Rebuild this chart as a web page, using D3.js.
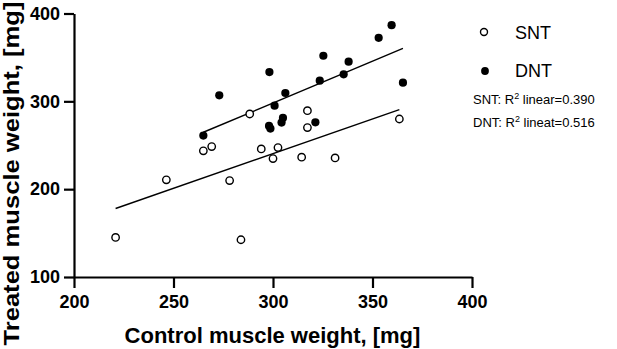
<!DOCTYPE html>
<html>
<head>
<meta charset="utf-8">
<script src="https://cdn.jsdelivr.net/npm/d3@7"></script>
<style>
  html, body { margin: 0; padding: 0; background: #fff; }
  svg { display: block; font-family: "Liberation Sans", Arial, sans-serif; }
</style>
</head>
<body>
<svg id="chart" width="617" height="349"></svg>
<script>
// ---- data ----
const sntX = [220.9, 246.4, 265.0, 269.2, 278.2, 283.9, 288.3, 294.1, 300.0, 302.5, 314.4, 317.3, 317.3, 331.2, 363.5];
const sntY = [145.1, 210.6, 243.6, 248.5, 209.8, 142.4, 285.6, 245.8, 234.8, 247.3, 236.4, 289.4, 270.1, 235.6, 279.9];
const dntX = [265.0, 273.0, 298.2, 298.0, 298.7, 300.8, 304.3, 305.0, 306.2, 321.3, 323.5, 325.3, 335.5, 338.0, 353.1, 359.6, 365.3];
const dntY = [261.0, 306.8, 333.3, 272.0, 269.0, 295.1, 275.8, 281.1, 309.5, 276.1, 323.5, 351.9, 330.7, 345.1, 372.3, 386.7, 321.2];
// linear fits (slope, intercept) as drawn in the reference
const sntFit = [0.789, 3.7];
const dntFit = [0.951, 12.8];
const xTicks = [200, 250, 300, 350, 400];
const yTicks = [100, 200, 300, 400];
const seriesNames = ["SNT", "DNT"];
const r2Labels = [["SNT: R", "2", " linear=0.390"], ["DNT: R", "2", " lineat=0.516"]];
const xTitle = "Control muscle weight, [mg]";
const yTitle = "Treated muscle weight, [mg]";

const svg = d3.select("#chart");
const x = d3.scaleLinear().domain([200, 400]).range([74, 472]);
const y = d3.scaleLinear().domain([100, 400]).range([277, 13.5]);

// axes
const xAxis = svg.append("g").attr("transform", `translate(0,${y(100)})`)
  .call(d3.axisBottom(x).tickValues(xTicks).tickSize(11).tickPadding(5).tickSizeOuter(0));
const yAxis = svg.append("g").attr("transform", `translate(${x(200)},0)`)
  .call(d3.axisLeft(y).tickValues(yTicks).tickSize(10).tickPadding(4).tickSizeOuter(0));
[xAxis, yAxis].forEach(g => {
  g.select(".domain").attr("stroke", "#000").attr("stroke-width", 2.2);
  g.selectAll(".tick line").attr("stroke", "#000").attr("stroke-width", 2.2);
  g.selectAll(".tick text").attr("fill", "#000")
    .style("font-family", '"Liberation Sans", Arial, sans-serif')
    .style("font-size", "18px").style("font-weight", "bold");
});
xAxis.selectAll(".tick text").attr("dy", "0.85em");

// axis titles
svg.append("text").attr("x", (x(200) + x(400)) / 2 - 0.5).attr("y", 343)
  .attr("text-anchor", "middle").style("font-size", "22px").style("font-weight", "bold")
  .text(xTitle);
svg.append("text").attr("transform", "translate(19,173.5) rotate(-90)")
  .attr("text-anchor", "middle").style("font-size", "22px").style("font-weight", "bold")
  .attr("textLength", 344).attr("lengthAdjust", "spacingAndGlyphs")
  .text(yTitle);

// fit lines
function fitLine(xs, fit) {
  const [x0, x1] = d3.extent(xs);
  return [[x0, fit[0] * x0 + fit[1]], [x1, fit[0] * x1 + fit[1]]];
}
const line = d3.line().x(d => x(d[0])).y(d => y(d[1]));
svg.append("path").attr("d", line(fitLine(sntX, sntFit)))
  .attr("fill", "none").attr("stroke", "#000").attr("stroke-width", 1.4);
svg.append("path").attr("d", line(fitLine(dntX, dntFit)))
  .attr("fill", "none").attr("stroke", "#000").attr("stroke-width", 1.4);

// points
svg.append("g").selectAll("circle").data(sntX.map((v, i) => [v, sntY[i]])).join("circle")
  .attr("cx", d => x(d[0])).attr("cy", d => y(d[1])).attr("r", 3.7)
  .attr("fill", "#fff").attr("stroke", "#000").attr("stroke-width", 1.4);
svg.append("g").selectAll("circle").data(dntX.map((v, i) => [v, dntY[i]])).join("circle")
  .attr("cx", d => x(d[0])).attr("cy", d => y(d[1])).attr("r", 4.1)
  .attr("fill", "#000");

// legend
const leg = svg.append("g");
leg.append("circle").attr("cx", 484).attr("cy", 32).attr("r", 3.5)
  .attr("fill", "#fff").attr("stroke", "#000").attr("stroke-width", 1.4);
leg.append("circle").attr("cx", 485).attr("cy", 71).attr("r", 3.9).attr("fill", "#000");
seriesNames.forEach((n, i) => {
  leg.append("text").attr("x", 515).attr("y", 38.5 + i * 38.5)
    .style("font-size", "18px").text(n);
});
r2Labels.forEach((parts, i) => {
  const t = leg.append("text").attr("x", 473).attr("y", 104 + i * 23).style("font-size", "13px");
  t.append("tspan").text(parts[0]);
  t.append("tspan").attr("dy", -5).style("font-size", "9px").text(parts[1]);
  t.append("tspan").attr("dy", 5).text(parts[2]);
});
</script>
</body>
</html>
